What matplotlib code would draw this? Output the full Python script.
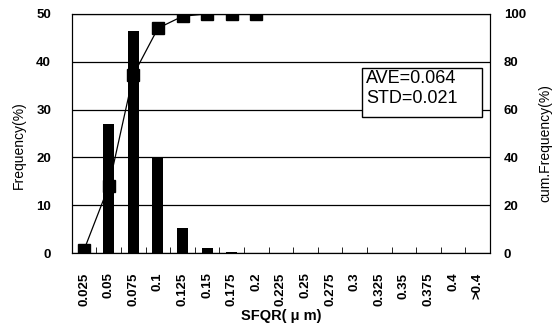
import matplotlib
matplotlib.use('Agg')
import matplotlib.pyplot as plt
import numpy as np
from matplotlib.patches import Rectangle

plt.rcParams['font.family'] = ['Liberation Sans', 'DejaVu Sans']

labels = ['0.025', '0.05', '0.075', '0.1', '0.125', '0.15', '0.175', '0.2',
          '0.225', '0.25', '0.275', '0.3', '0.325', '0.35', '0.375', '0.4', '>0.4']
freq = [1.5, 27, 46.5, 20, 5.3, 1.0, 0.2, 0, 0, 0, 0, 0, 0, 0, 0, 0, 0]
cum_labels = labels[:8]
cum_freq = [1.5, 28, 74.5, 94, 99, 100, 100, 100]

x = np.arange(len(labels))

fig = plt.figure(figsize=(5.53, 3.30), dpi=100)
ax = fig.add_axes([0.130, 0.233, 0.756, 0.725])
ax.bar(x, freq, width=0.45, color='black', zorder=2)
ax.set_xlim(-0.5, len(labels) - 0.5)
ax.set_ylim(0, 50)
ax.set_yticks([0, 10, 20, 30, 40, 50])
ax.yaxis.grid(True, color='black', linewidth=0.9)
ax.set_axisbelow(True)
ax.set_xticks(x)
ax.set_xticklabels(labels, rotation=90, fontsize=9.5, fontweight='bold')
ax.set_xticks(np.arange(len(labels) + 1) - 0.5, minor=True)
ax.tick_params(axis='x', which='major', length=0, pad=14)
ax.tick_params(axis='x', which='minor', direction='in', length=4)
ax.tick_params(axis='y', length=0, pad=15, labelsize=9.5)
for t in ax.get_yticklabels():
    t.set_fontweight('bold')
ax.set_ylabel('Frequency(%)', fontsize=10)
ax.yaxis.set_label_coords(-0.110, 0.45)
ax.set_xlabel('SFQR( μ m)', fontsize=10.5, fontweight='bold')
ax.xaxis.set_label_coords(0.5, -0.235)

ax2 = ax.twinx()
ax2.plot(x[:len(cum_freq)], cum_freq, color='black', linewidth=0.9,
         marker='s', markersize=9, zorder=3)
ax2.set_ylim(0, 100)
ax2.set_yticks([0, 20, 40, 60, 80, 100])
ax2.tick_params(axis='y', length=0, pad=10, labelsize=9.5)
for t in ax2.get_yticklabels():
    t.set_fontweight('bold')
ax2.set_ylabel('cum.Frequency(%)', fontsize=10)
ax2.yaxis.set_label_coords(1.115, 0.46)

# stats box
ax2.add_patch(Rectangle((0.694, 0.569), 0.287, 0.205, transform=ax.transAxes,
                        facecolor='white', edgecolor='black', linewidth=1.0, zorder=4))
ax2.text(0.703, 0.765, 'AVE=0.064\nSTD=0.021', transform=ax.transAxes,
         fontsize=13, va='top', ha='left', multialignment='left',
         linespacing=1.25, zorder=5)

fig.savefig('out.png', dpi=100)
